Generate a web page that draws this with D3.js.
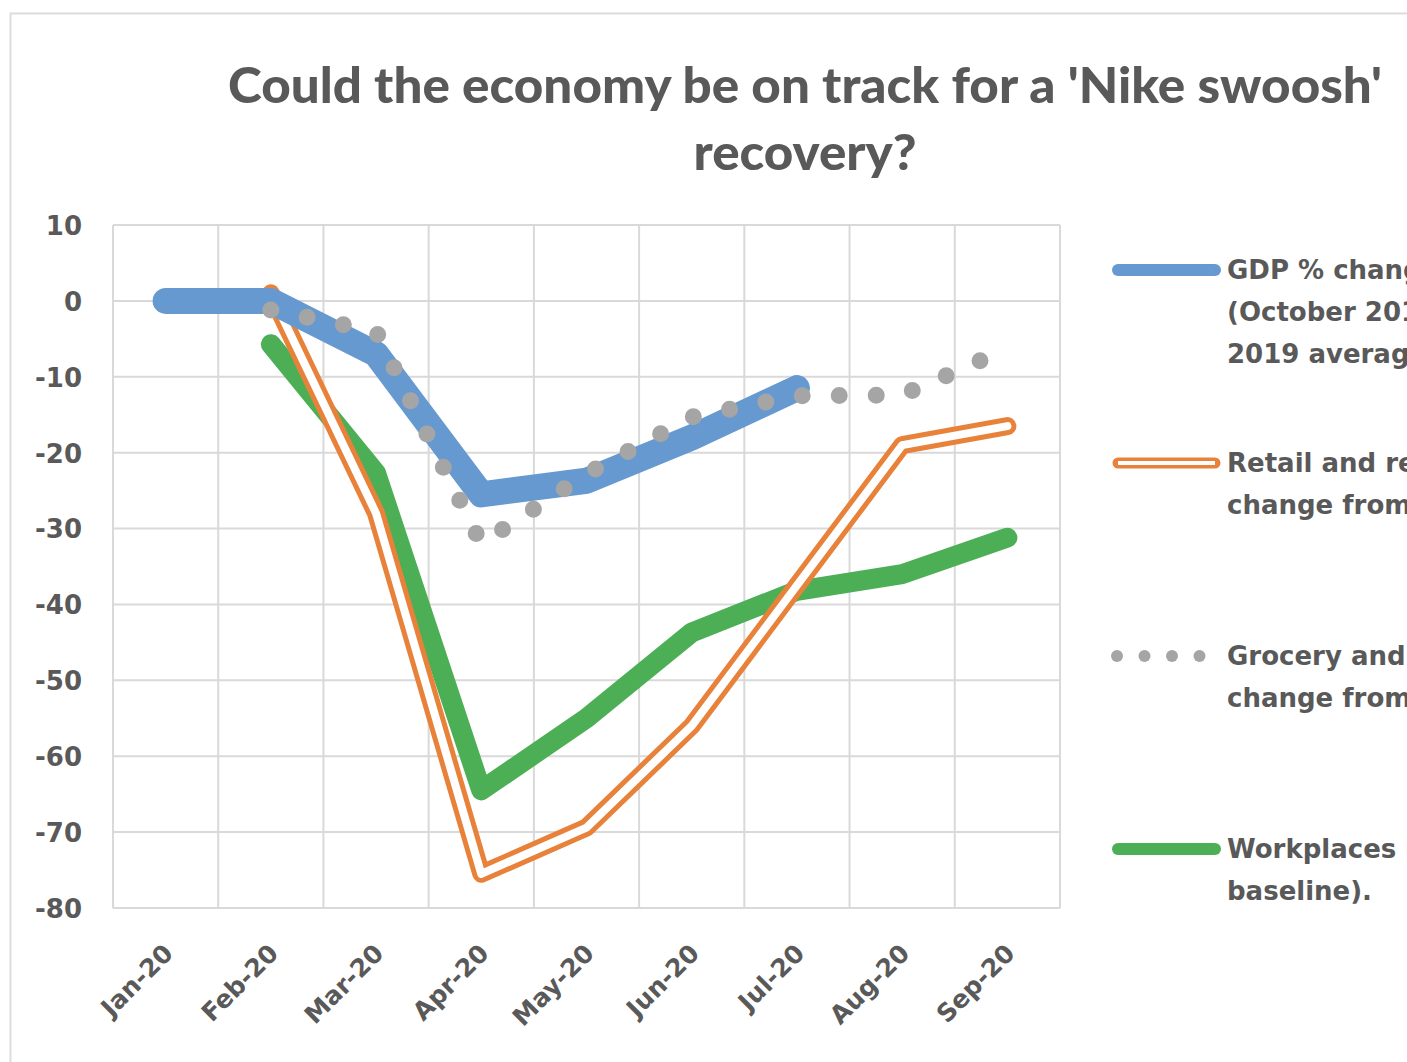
<!DOCTYPE html>
<html>
<head>
<meta charset="utf-8">
<script src="https://cdn.jsdelivr.net/npm/d3@7/dist/d3.min.js"></script>
<style>
  html, body { margin: 0; padding: 0; background: #ffffff; }
  svg { display: block; }
</style>
</head>
<body>
<script>
// ---- Data ----
const months = ["Jan-20", "Feb-20", "Mar-20", "Apr-20", "May-20", "Jun-20", "Jul-20", "Aug-20", "Sep-20"];
const gdp        = [0, 0, -7, -25.5, -23.7, -18, -11.5, null, null];
const retail     = [null, 1, -28, -75.5, -69.4, -56, -37.5, -19, -16.5];
const grocery    = [null, -1.2, -4, -32, -22.8, -15.3, -12.5, -12.4, -6.3];
const workplaces = [null, -5.7, -22.7, -64.5, -55, -43.7, -38.2, -36, -31.2];
const yTicks = [10, 0, -10, -20, -30, -40, -50, -60, -70, -80];
const titleLines = ["Could the economy be on track for a 'Nike swoosh'", "recovery?"];
const legendItems = [
  { key: "gdp", lines: ["GDP % change from", "(October 2019 -", "2019 average)"] },
  { key: "retail", lines: ["Retail and recreation (%", "change from baseline)"] },
  { key: "grocery", lines: ["Grocery and pharmacy (%", "change from baseline)"] },
  { key: "work", lines: ["Workplaces (% change from", "baseline)."] }
];

// ---- Layout ----
const W = 1407, H = 1062;
const plot = { left: 113, right: 1060, top: 225, bottom: 908 };
const textColor = "#595959";
const gridColor = "#d9d9d9";
const colors = { gdp: "#6699d0", retail: "#e8823a", grocery: "#a5a5a5", work: "#4caf55" };

const svg = d3.select("body").append("svg").attr("width", W).attr("height", H);

// Outer chart frame
svg.append("path")
  .attr("d", `M${W + 2},13.5 H10.5 V${H + 2}`)
  .attr("fill", "none").attr("stroke", "#dcdcdc").attr("stroke-width", 2);

// Scales
const x = d3.scaleBand().domain(months).range([plot.left, plot.right]).paddingInner(0).paddingOuter(0);
const y = d3.scaleLinear().domain([-80, 10]).range([plot.bottom, plot.top]);
const cx = m => x(m) + x.bandwidth() / 2;

// Gridlines
const grid = svg.append("g");
grid.selectAll("line.h").data(yTicks).join("line")
  .attr("x1", plot.left).attr("x2", plot.right)
  .attr("y1", d => y(d)).attr("y2", d => y(d))
  .attr("stroke", gridColor).attr("stroke-width", 2);
const vEdges = months.map(m => x(m)).concat([plot.right]);
grid.selectAll("line.v").data(vEdges).join("line")
  .attr("x1", d => d).attr("x2", d => d)
  .attr("y1", plot.top).attr("y2", plot.bottom)
  .attr("stroke", gridColor).attr("stroke-width", 2);

// Y axis
const yAxis = svg.append("g").attr("transform", `translate(${plot.left},0)`)
  .call(d3.axisLeft(y).tickValues(yTicks).tickSize(0).tickPadding(31).tickFormat(d => String(d)));
yAxis.select(".domain").remove();
yAxis.selectAll("text")
  .attr("font-family", "DejaVu Sans, sans-serif").attr("font-weight", "bold")
  .attr("font-size", 26).attr("fill", textColor).attr("dy", "0.36em");

// X axis
const xAxis = svg.append("g").attr("transform", `translate(0,${plot.bottom})`)
  .call(d3.axisBottom(x).tickSize(0));
xAxis.select(".domain").remove();
xAxis.selectAll("text")
  .attr("font-family", "DejaVu Sans, sans-serif").attr("font-weight", "bold")
  .attr("font-size", 25).attr("fill", textColor)
  .attr("text-anchor", "end").attr("x", 0).attr("y", 0).attr("dy", 0)
  .attr("transform", "translate(9,47) rotate(-45)");

// Line generator
function lineFor(vals) {
  return d3.line()
    .defined(d => d.v !== null)
    .x(d => cx(d.m)).y(d => y(d.v))(months.map((m, i) => ({ m, v: vals[i] })));
}

const series = svg.append("g");
// Workplaces
series.append("path").attr("d", lineFor(workplaces))
  .attr("fill", "none").attr("stroke", colors.work).attr("stroke-width", 20)
  .attr("stroke-linejoin", "round").attr("stroke-linecap", "round");
// Retail (double line)
series.append("path").attr("d", lineFor(retail))
  .attr("fill", "none").attr("stroke", colors.retail).attr("stroke-width", 18)
  .attr("stroke-linejoin", "round").attr("stroke-linecap", "round");
series.append("path").attr("d", lineFor(retail))
  .attr("fill", "none").attr("stroke", "#ffffff").attr("stroke-width", 8)
  .attr("stroke-linejoin", "round").attr("stroke-linecap", "round");
// GDP
series.append("path").attr("d", lineFor(gdp))
  .attr("fill", "none").attr("stroke", colors.gdp).attr("stroke-width", 26)
  .attr("stroke-linejoin", "round").attr("stroke-linecap", "round");
// Grocery (round dots)
series.append("path").attr("d", lineFor(grocery))
  .attr("fill", "none").attr("stroke", colors.grocery).attr("stroke-width", 17)
  .attr("stroke-linejoin", "round").attr("stroke-linecap", "round")
  .attr("stroke-dasharray", "0 37");

// Title
const title = svg.append("g").attr("font-family", "Lato, sans-serif").attr("font-weight", 900)
  .attr("fill", textColor).attr("text-anchor", "middle");
const titleY = [103, 170];
const titleLen = [1154, 223];
title.selectAll("text").data(titleLines).join("text")
  .attr("x", 805).attr("y", (d, i) => titleY[i])
  .attr("font-size", 50)
  .attr("textLength", (d, i) => titleLen[i]).attr("lengthAdjust", "spacingAndGlyphs")
  .text(d => d);

// Legend
const legendY = [270, 463, 656, 849];
const lg = svg.append("g");
legendItems.forEach((item, i) => {
  const g = lg.append("g").attr("transform", `translate(0,${legendY[i]})`);
  if (item.key === "grocery") {
    g.selectAll("circle").data([0, 1, 2, 3]).join("circle")
      .attr("cx", d => 1117 + d * 27.5).attr("cy", 0).attr("r", 6).attr("fill", colors.grocery);
  } else if (item.key === "retail") {
    g.append("line").attr("x1", 1118).attr("x2", 1215).attr("y1", 0).attr("y2", 0)
      .attr("stroke", colors.retail).attr("stroke-width", 11).attr("stroke-linecap", "round");
    g.append("line").attr("x1", 1118).attr("x2", 1215).attr("y1", 0).attr("y2", 0)
      .attr("stroke", "#fff").attr("stroke-width", 4);
  } else {
    g.append("line").attr("x1", 1118).attr("x2", 1215).attr("y1", 0).attr("y2", 0)
      .attr("stroke", colors[item.key]).attr("stroke-width", 12).attr("stroke-linecap", "round");
  }
  g.selectAll("text").data(item.lines).join("text")
    .attr("x", 1227).attr("y", (d, j) => j * 42).attr("dy", "0.36em")
    .attr("font-family", "DejaVu Sans, sans-serif").attr("font-weight", "bold")
    .attr("font-size", 26).attr("fill", textColor)
    .text(d => d);
});
</script>
</body>
</html>
